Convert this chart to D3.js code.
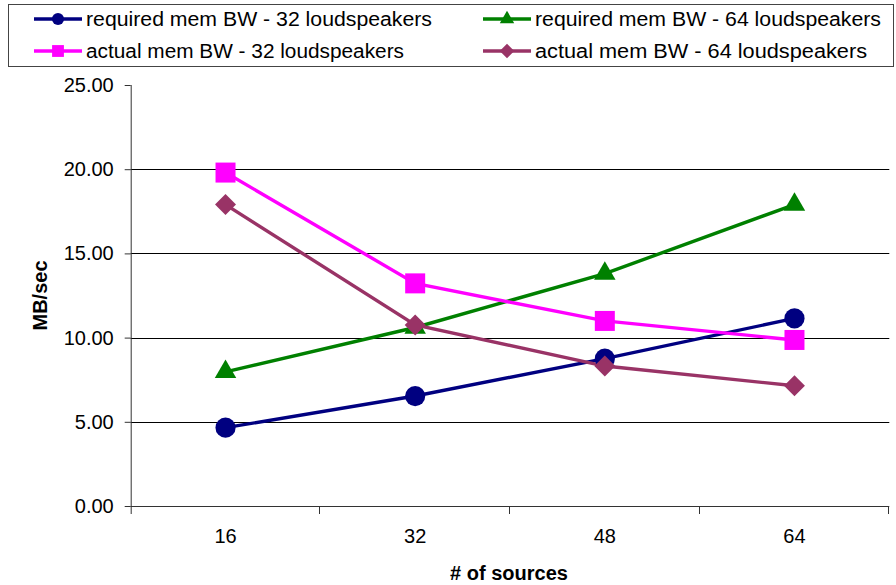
<!DOCTYPE html>
<html>
<head>
<meta charset="utf-8">
<script src="https://cdn.jsdelivr.net/npm/d3@7"></script>
<style>
  html, body { margin: 0; padding: 0; background: #fff; }
  svg { display: block; font-family: "Liberation Sans", Arial, sans-serif; }
</style>
</head>
<body>
<svg id="chart" width="896" height="585"></svg>
<script>
// Memory bandwidth vs. number of sources
const categories = ["16", "32", "48", "64"];
const requiredBW32 = [4.65, 6.53, 8.75, 11.14];
const requiredBW64 = [7.97, 10.6, 13.8, 17.9];
const actualBW32   = [19.8, 13.22, 10.99, 9.86];
const actualBW64   = [17.9, 10.75, 8.31, 7.14];
const yTicks = [0, 5, 10, 15, 20, 25];

// a square turned 45 degrees, as wide as it is tall
const symbolRhombus = {
  draw(ctx, size) {
    const r = Math.sqrt(size / 2);
    ctx.moveTo(0, -r); ctx.lineTo(r, 0); ctx.lineTo(0, r); ctx.lineTo(-r, 0); ctx.closePath();
  }
};

const series = [
  { name: "required mem BW - 32 loudspeakers", values: requiredBW32, color: "#000080", symbol: d3.symbolCircle,   size: 320, legendSize: 115, legendWidth: 346 },
  { name: "required mem BW - 64 loudspeakers", values: requiredBW64, color: "#008000", symbol: d3.symbolTriangle, size: 200, legendSize: 90,  legendWidth: 346 },
  { name: "actual mem BW - 32 loudspeakers",   values: actualBW32,   color: "#FF00FF", symbol: d3.symbolSquare,   size: 400, legendSize: 140, legendWidth: 318 },
  { name: "actual mem BW  - 64 loudspeakers",  values: actualBW64,   color: "#993366", symbol: symbolRhombus,     size: 220, legendSize: 105, legendWidth: 332 }
];

const svg = d3.select("#chart");
const plot = { left: 130.7, right: 889.3, top: 85, bottom: 506 };

const x = d3.scaleBand().domain(categories).range([plot.left, plot.right]);
const y = d3.scaleLinear().domain([0, 25]).range([plot.bottom, plot.top]);
const cx = c => x(c) + x.bandwidth() / 2;

// horizontal gridlines
svg.append("g")
  .selectAll("line")
  .data(yTicks.filter(t => t > 0 && t < 25))
  .join("line")
  .attr("x1", plot.left).attr("x2", plot.right)
  .attr("y1", d => Math.round(y(d)) + 0.5).attr("y2", d => Math.round(y(d)) + 0.5)
  .attr("stroke", "#000").attr("stroke-width", 1);

// y axis
const yAxis = svg.append("g")
  .attr("transform", `translate(${plot.left},0)`)
  .call(d3.axisLeft(y).tickValues(yTicks).tickFormat(d3.format(".2f")).tickSize(6).tickPadding(11));
yAxis.select(".domain").attr("stroke", "#333").attr("d", `M0.5,${plot.top}V${plot.bottom + 8}`);
yAxis.selectAll(".tick line").attr("stroke", "#333");
yAxis.selectAll("text").attr("font-size", 20).attr("fill", "#000");

// x axis with ticks at category boundaries
const xAxis = svg.append("g")
  .attr("transform", `translate(0,${plot.bottom})`)
  .call(d3.axisBottom(x).tickSize(0).tickPadding(23));
xAxis.select(".domain").attr("stroke", "#333").attr("d", `M${plot.left},0.5H${plot.right}`);
xAxis.selectAll("text").attr("font-size", 20).attr("fill", "#000");
xAxis.append("g")
  .selectAll("line")
  .data(categories.slice(1).map(c => x(c)).concat([plot.right]))
  .join("line")
  .attr("x1", d => Math.round(d) - 0.5).attr("x2", d => Math.round(d) - 0.5)
  .attr("y1", 0).attr("y2", 8)
  .attr("stroke", "#333");

// axis titles
svg.append("text")
  .attr("x", 509).attr("y", 580)
  .attr("text-anchor", "middle").attr("font-size", 20).attr("font-weight", "bold")
  .text("# of sources");
svg.append("text")
  .attr("transform", `translate(47,${(plot.top + plot.bottom) / 2}) rotate(-90)`)
  .attr("text-anchor", "middle").attr("font-size", 20).attr("font-weight", "bold")
  .text("MB/sec");

// series lines and markers
const line = d3.line().x((d, i) => cx(categories[i])).y(d => y(d));
series.forEach(s => {
  svg.append("path")
    .datum(s.values)
    .attr("d", line)
    .attr("fill", "none").attr("stroke", s.color).attr("stroke-width", 3.4);
});
series.forEach(s => {
  svg.append("g")
    .selectAll("path")
    .data(s.values)
    .join("path")
    .attr("transform", (d, i) => `translate(${cx(categories[i])},${y(d)})`)
    .attr("d", d3.symbol().type(s.symbol).size(s.size))
    .attr("fill", s.color);
});

// legend
const legend = svg.append("g");
legend.append("rect")
  .attr("x", 8.5).attr("y", 4.5).attr("width", 885).attr("height", 62)
  .attr("fill", "#fff").attr("stroke", "#444").attr("stroke-width", 1);
const legendPos = [
  { x: 34, y: 19 }, { x: 483, y: 19 },
  { x: 34, y: 51 }, { x: 483, y: 51 }
];
series.forEach((s, k) => {
  const p = legendPos[k];
  const g = legend.append("g").attr("transform", `translate(${p.x},${p.y})`);
  g.append("line").attr("x1", 0).attr("x2", 48).attr("y1", 0).attr("y2", 0)
    .attr("stroke", s.color).attr("stroke-width", 3.4);
  g.append("path").attr("transform", "translate(24,0)")
    .attr("d", d3.symbol().type(s.symbol).size(s.legendSize))
    .attr("fill", s.color);
  g.append("text").attr("x", 52).attr("y", 7).attr("font-size", 20).attr("fill", "#000")
    .attr("textLength", s.legendWidth).attr("lengthAdjust", "spacingAndGlyphs")
    .text(s.name);
});
</script>
</body>
</html>
